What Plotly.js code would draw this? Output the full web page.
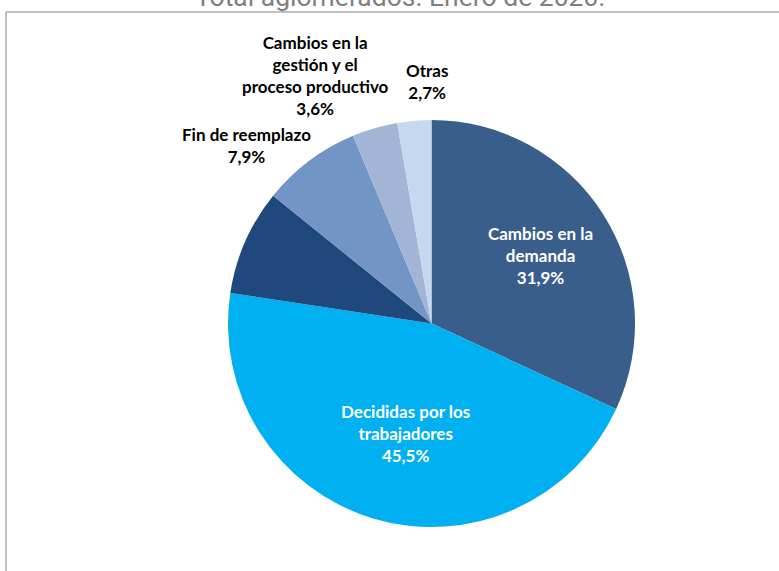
<!DOCTYPE html>
<html>
<head>
<meta charset="utf-8">
<script src="https://cdn.plot.ly/plotly-3.0.1.min.js"></script>
<style>html,body{margin:0;padding:0;background:#fff;}#chart{width:779px;height:571px;}</style>
</head>
<body>
<div id="chart"></div>
<script>
// Data
const categories = [
  "Cambios en la demanda",
  "Decididas por los trabajadores",
  "Otras causas",
  "Fin de reemplazo",
  "Cambios en la gestión y el proceso productivo",
  "Otras"
];
const values = [31.9, 45.5, 8.4, 7.9, 3.6, 2.7];
const labelTexts = [
  "Cambios en la<br>demanda<br>31,9%",
  "Decididas por los<br>trabajadores<br>45,5%",
  "",
  "Fin de reemplazo<br>7,9%",
  "Cambios en la<br>gestión y el<br>proceso productivo<br>3,6%",
  "Otras<br>2,7%"
];
const sliceColors = ["#3A5E8C", "#00B0F0", "#1F497D", "#7295C6", "#A3B5D7", "#C6D8F0"];
const titleText = "Total aglomerados. Enero de 2020.";

const W = 779, H = 571;
const px = (x) => x / W;
const py = (y) => 1 - y / H;

const trace = {
  type: "pie",
  labels: categories,
  values: values,
  sort: false,
  direction: "clockwise",
  rotation: 0,
  textinfo: "none",
  hoverinfo: "label+percent",
  marker: { colors: sliceColors, line: { width: 0 } },
  domain: { x: [px(228), px(635)], y: [py(527), py(120)] },
  showlegend: false
};

const labelFont = { family: "Lato, 'Open Sans', sans-serif", size: 17, color: "#000" };
const whiteFont = Object.assign({}, labelFont, { color: "#fff" });
const labelPos = [
  [540, 255, whiteFont],
  [405, 433, whiteFont],
  null,
  [246, 145, labelFont],
  [315, 76, labelFont],
  [427, 82, labelFont]
];
const annotations = [];
labelTexts.forEach((t, i) => {
  if (!t || !labelPos[i]) return;
  annotations.push({
    text: "<b>" + t + "</b>",
    x: px(labelPos[i][0]), y: py(labelPos[i][1]),
    xref: "paper", yref: "paper",
    xanchor: "center", yanchor: "middle",
    showarrow: false, align: "center",
    font: labelPos[i][2]
  });
});
annotations.push({
  text: titleText,
  x: px(400), y: py(-4), xref: "paper", yref: "paper",
  xanchor: "center", yanchor: "middle", showarrow: false,
  font: { family: "Roboto, 'Liberation Sans', Arial, sans-serif", size: 26.5, color: "#7F7F7F" }
});

const layout = {
  width: W, height: H,
  margin: { l: 0, r: 0, t: 0, b: 0 },
  paper_bgcolor: "#fff",
  annotations: annotations,
  shapes: [
    { type: "line", xref: "paper", yref: "paper", x0: px(6), x1: 1.01, y0: py(12), y1: py(12), line: { color: "#ABABAB", width: 1.5 } },
    { type: "line", xref: "paper", yref: "paper", x0: px(6), x1: px(6), y0: py(12), y1: -0.01, line: { color: "#ABABAB", width: 1.5 } }
  ]
};

Plotly.newPlot("chart", [trace], layout, { displayModeBar: false, staticPlot: true });
</script>
</body>
</html>
